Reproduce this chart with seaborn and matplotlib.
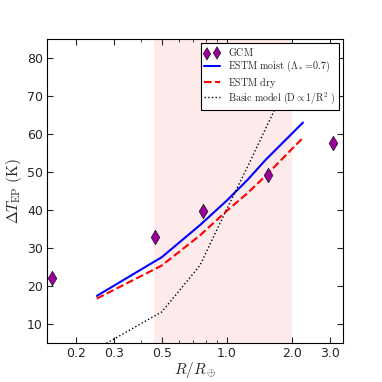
import numpy as np
import pandas as pd
import matplotlib
matplotlib.use("Agg")
import matplotlib.pyplot as plt
from matplotlib.ticker import FixedLocator, FixedFormatter, NullFormatter
import seaborn as sns

# GCM points
gcm_r = [0.155, 0.466, 0.774, 1.55, 3.09]
gcm_dt = [22.2, 33.0, 39.8, 49.3, 57.6]

# model curves
model_r = [0.25, 0.5, 0.75, 1.0, 1.25, 1.5, 2.25]
moist_dt = [17.4, 27.6, 36.0, 42.5, 48.0, 53.0, 63.0]
dry_dt = [16.7, 25.4, 33.3, 39.8, 44.5, 48.8, 59.0]
basic_dt = [3.5, 13.2, 25.4, 40.3, 51.5, 61.0, 82.0]

xticks = [0.2, 0.3, 0.5, 1.0, 2.0, 3.0]
yticks = [10, 20, 30, 40, 50, 60, 70, 80]
span = (0.46, 2.0)

sns.set_style("ticks")
plt.rcParams['mathtext.fontset'] = 'cm'

df = pd.DataFrame({"r": model_r, "moist": moist_dt, "dry": dry_dt, "basic": basic_dt})
gcm = pd.DataFrame({"r": gcm_r, "dt": gcm_dt})

fig = plt.figure(figsize=(3.82, 3.82), dpi=100)
ax = fig.add_axes([0.123, 0.102, 0.775, 0.796])

ax.axvspan(span[0], span[1], color='#fdeaea', zorder=0, lw=0)

sns.scatterplot(data=gcm, x="r", y="dt", marker='d', s=55, color='#990099',
                edgecolor='k', linewidth=0.4, label=r'$\mathrm{GCM}$', ax=ax, zorder=5)
sns.lineplot(data=df, x="r", y="moist", color='blue', lw=1.5,
             label=r'$\mathrm{ESTM\ moist\ }(\Lambda_*\!=\!0.7)$', ax=ax)
sns.lineplot(data=df, x="r", y="dry", color='red', lw=1.5, linestyle='--',
             label=r'$\mathrm{ESTM\ dry}$', ax=ax)
sns.lineplot(data=df, x="r", y="basic", color='k', lw=1.0, linestyle=':',
             label=r'$\mathrm{Basic\ model\ }(\mathrm{D}\propto 1/\mathrm{R}^2\ )$', ax=ax)

ax.set_xscale('log')
ax.set_xlim(0.147, 3.45)
ax.set_ylim(5, 85)
ax.xaxis.set_major_locator(FixedLocator(xticks))
ax.xaxis.set_major_formatter(FixedFormatter([f"{t:.1f}" for t in xticks]))
ax.xaxis.set_minor_formatter(NullFormatter())
ax.set_yticks(yticks)

ax.tick_params(which='both', direction='in', top=True, right=True, labelsize=9, pad=3)
ax.tick_params(which='major', length=4)
ax.tick_params(which='minor', length=2)
for s in ax.spines.values():
    s.set_linewidth(0.8)
    s.set_color('k')

ax.set_xlabel(r'$R/R_\oplus$', fontsize=11, labelpad=0)
ax.set_ylabel(r'$\Delta T_{\rm EP}\ \rm (K)$', fontsize=11, labelpad=2)

leg = ax.legend(loc='upper right', scatterpoints=2, fontsize=7.2, fancybox=False,
                edgecolor='k', framealpha=1, borderpad=0.35, labelspacing=0.05,
                handlelength=1.6, handletextpad=0.8, borderaxespad=0.4,
                markerscale=0.85)
leg.get_frame().set_linewidth(0.8)

fig.savefig("out.png", dpi=100)
